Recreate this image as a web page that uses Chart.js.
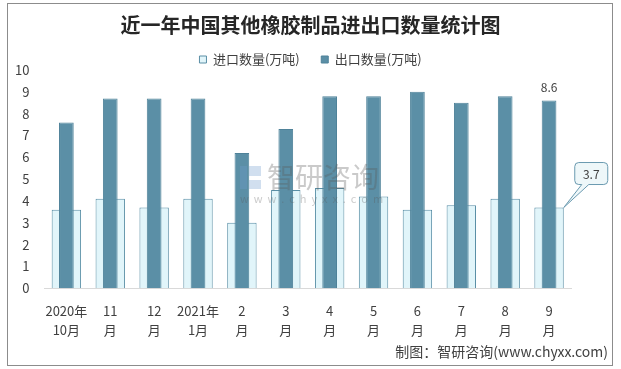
<!DOCTYPE html>
<html>
<head>
<meta charset="utf-8">
<script src="https://cdn.jsdelivr.net/npm/chart.js@4.4.1/dist/chart.umd.min.js"></script>
<style>
  html, body { margin: 0; padding: 0; background: #fff; }
  #wrap { width: 621px; height: 369px; }
</style>
</head>
<body>
<div id="wrap"><canvas id="myChart" width="621" height="369"></canvas></div>
<script>
const months = [['2020年', '10月'], ['11', '月'], ['12', '月'], ['2021年', '1月'], ['2', '月'], ['3', '月'],
                ['4', '月'], ['5', '月'], ['6', '月'], ['7', '月'], ['8', '月'], ['9', '月']]
const importQty = [3.6, 4.1, 3.7, 4.1, 3.0, 4.5, 4.6, 4.2, 3.6, 3.8, 4.1, 3.7]
const exportQty = [7.6, 8.7, 8.7, 8.7, 6.2, 7.3, 8.8, 8.8, 9.0, 8.5, 8.8, 8.6]
const yTicks = [0, 1, 2, 3, 4, 5, 6, 7, 8, 9, 10]

const fontFamily = '"Noto Sans CJK SC", "Noto Sans", sans-serif'
const ctx = document.getElementById('myChart').getContext('2d')

// legend sits closer to the plot than Chart.js would place it
const tightLegend = {
    id: 'tightLegend',
    beforeInit(chart) {
        const fit = chart.legend.fit
        chart.legend.fit = function () {
            fit.bind(chart.legend)()
            this.height -= 6
        }
    }
}

// frame, watermark, footer, and the two value labels
const decor = {
    id: 'decor',
    beforeDraw(chart) {
        const c = chart.ctx
        c.save()
        c.fillStyle = '#fff'
        c.fillRect(0, 0, chart.width, chart.height)
        c.strokeStyle = '#8c8c8c'
        c.lineWidth = 1
        c.strokeRect(7.5, 3.5, 605, 362)
        c.restore()
    },
    afterDatasetsDraw(chart) {
        const c = chart.ctx
        c.save()
        // watermark
        c.globalAlpha = 0.32
        c.fillStyle = '#6f9ccc'
        c.fillRect(240, 166, 7, 23)
        c.fillRect(249, 166, 12, 10)
        c.fillRect(249, 180, 12, 9)
        c.fillStyle = '#5a5a5a'
        c.font = '28px ' + fontFamily
        c.textBaseline = 'middle'
        c.fillText('智研咨询', 267, 177)
        c.font = '11px ' + fontFamily
        c.fillText('w  w  w  .  c  h  y  x  x  .  c  o  m', 240, 199)
        c.restore()

        const last = exportQty.length - 1
        const exBar = chart.getDatasetMeta(1).data[last]
        const imBar = chart.getDatasetMeta(0).data[last]
        c.save()
        c.fillStyle = '#404040'
        c.font = '12px ' + fontFamily
        c.textAlign = 'center'
        c.textBaseline = 'middle'
        c.fillText(exportQty[last].toFixed(1), exBar.x, exBar.y - 13)

        // callout for the import value
        const ax = imBar.x + imBar.width / 2
        const ay = imBar.y
        const bx = ax + 11, by = ay - 45, bw = 33, bh = 22, r = 4
        c.beginPath()
        c.moveTo(bx + r, by)
        c.lineTo(bx + bw - r, by)
        c.quadraticCurveTo(bx + bw, by, bx + bw, by + r)
        c.lineTo(bx + bw, by + bh - r)
        c.quadraticCurveTo(bx + bw, by + bh, bx + bw - r, by + bh)
        c.lineTo(bx + 14, by + bh)
        c.lineTo(ax, ay)
        c.lineTo(bx + 7, by + bh)
        c.lineTo(bx + r, by + bh)
        c.quadraticCurveTo(bx, by + bh, bx, by + bh - r)
        c.lineTo(bx, by + r)
        c.quadraticCurveTo(bx, by, bx + r, by)
        c.closePath()
        c.fillStyle = '#eef7f9'
        c.fill()
        c.strokeStyle = '#6a9ab0'
        c.lineWidth = 1
        c.stroke()
        c.fillStyle = '#404040'
        c.fillText(importQty[last].toFixed(1), bx + bw / 2, by + bh / 2 + 1)

        // footer
        c.textAlign = 'right'
        c.font = '14px ' + fontFamily
        c.fillText('制图：智研咨询(www.chyxx.com)', 608, 352)
        c.restore()
    }
}

const data = {
    labels: months,
    datasets: [{
        label: '进口数量(万吨)',
        data: importQty,
        backgroundColor: '#e1f5fa',
        borderColor: '#5a8fa6',
        borderWidth: 1,
        barPercentage: 0.67,
        categoryPercentage: 1,
        grouped: false,
        order: 2
    }, {
        label: '出口数量(万吨)',
        data: exportQty,
        backgroundColor: '#5b8fa6',
        borderColor: '#4f8299',
        borderWidth: 1,
        barPercentage: 0.335,
        categoryPercentage: 1,
        grouped: false,
        order: 1
    }]
}

const config = {
    type: 'bar',
    data: data,
    plugins: [tightLegend, decor],
    options: {
        responsive: false,
        devicePixelRatio: 1,
        animation: false,
        layout: {
            padding: { left: 8, right: 8, top: 13, bottom: 25 }
        },
        plugins: {
            title: {
                display: true,
                text: '近一年中国其他橡胶制品进出口数量统计图',
                color: '#262626',
                font: { family: fontFamily, size: 20, weight: 'bold' },
                padding: { top: 0, bottom: 14 }
            },
            legend: {
                display: true,
                labels: {
                    color: '#404040',
                    font: { family: fontFamily, size: 13 },
                    boxWidth: 7,
                    boxHeight: 7,
                    padding: 2,
                    sort: (a, b) => a.datasetIndex - b.datasetIndex,
                    generateLabels: (chart) => {
                        const items = Chart.defaults.plugins.legend.labels.generateLabels(chart)
                        items.forEach(it => { if (it.datasetIndex === 0) it.text = it.text + '\u3000\u2002' })
                        return items
                    }
                }
            },
            tooltip: { enabled: false }
        },
        scales: {
            x: {
                grid: { display: false },
                border: { display: true, color: '#d9d9d9' },
                ticks: {
                    color: '#404040',
                    font: { family: fontFamily, size: 13, lineHeight: 1.45 },
                    maxRotation: 0,
                    autoSkip: false,
                    padding: 5
                }
            },
            y: {
                min: 0,
                max: 10,
                afterBuildTicks: (axis) => {
                    axis.ticks = yTicks.map(v => ({ value: v }))
                },
                grid: { display: false },
                border: { display: false },
                ticks: {
                    color: '#404040',
                    font: { family: fontFamily, size: 13 },
                    padding: 7
                }
            },
            // empty right-hand axis keeps room for the callout
            yRight: {
                position: 'right',
                min: 0,
                max: 10,
                grid: { display: false },
                border: { display: false },
                ticks: { display: false },
                afterFit: (axis) => { axis.width = 42 }
            }
        }
    }
}

const myChart = new Chart(ctx, config)
</script>
</body>
</html>
